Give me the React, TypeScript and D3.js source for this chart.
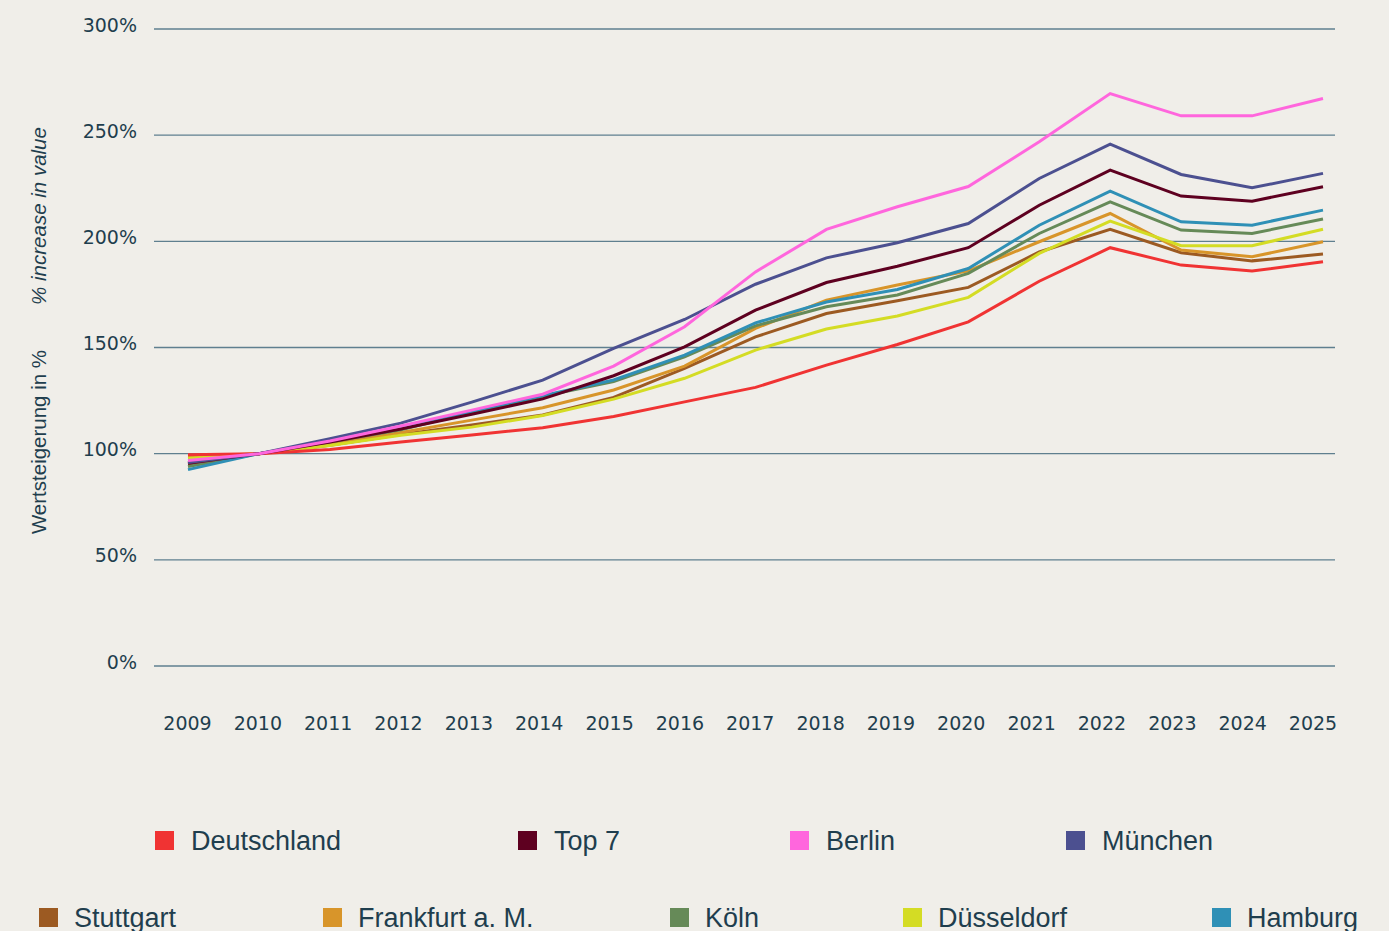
import React, { useEffect } from "react";
import { scaleLinear, scalePoint, line } from "d3";

const years = [2009, 2010, 2011, 2012, 2013, 2014, 2015, 2016, 2017, 2018, 2019, 2020, 2021, 2022, 2023, 2024, 2025];
const yTicks = [0, 50, 100, 150, 200, 250, 300];

const deutschland = [99.5, 100, 102, 105.5, 108.8, 112.2, 117.5, 124.4, 131.2, 141.7, 151.4, 162.1, 181.2, 197, 188.8, 186, 190.4];
const top7 = [95.5, 100, 105.5, 111.6, 118.6, 125.8, 136.7, 150.3, 167.6, 180.6, 188.3, 197, 217, 233.5, 221.3, 218.9, 225.7];
const berlin = [96.8, 100, 106, 113, 120.5, 128, 141.2, 159.8, 185.6, 205.6, 216.3, 225.8, 246.9, 269.6, 259.1, 259.1, 267.3];
const muenchen = [95.8, 100, 107, 114.4, 124.3, 134.6, 149.6, 163.2, 179.8, 192.2, 199.3, 208.4, 229.6, 245.8, 231.5, 225.2, 232];
const stuttgart = [95, 100, 104, 109, 113.5, 118.2, 126.5, 140.2, 155, 166, 172, 178.3, 195, 205.6, 194.6, 190.8, 194];
const frankfurt = [98.5, 100, 104.5, 110, 115.8, 121.6, 130, 141.2, 159, 172.3, 179.4, 186.1, 199.8, 213.1, 195.9, 192.7, 199.8];
const koeln = [94, 100, 105.5, 111.2, 119.5, 127, 134, 145.6, 160.2, 169.2, 174.7, 184.9, 203.7, 218.6, 205.3, 203.7, 210.5];
const duesseldorf = [97.8, 100, 103.8, 108.7, 112.5, 118, 125.7, 135.5, 148.8, 158.7, 164.8, 173.6, 194.3, 209.5, 197.9, 197.9, 205.7];
const hamburg = [92.5, 100, 106, 112, 120, 127.3, 134.7, 146.4, 161.6, 171.4, 177.3, 187.2, 207.6, 223.6, 209.2, 207.6, 214.7];

// drawing order (later = on top)
const series = [
  { name: "Stuttgart", color: "#9c5a22", values: stuttgart },
  { name: "Frankfurt a. M.", color: "#d8952a", values: frankfurt },
  { name: "Köln", color: "#668a58", values: koeln },
  { name: "Hamburg", color: "#2f90b6", values: hamburg },
  { name: "Düsseldorf", color: "#d4dc24", values: duesseldorf },
  { name: "Deutschland", color: "#f03333", values: deutschland },
  { name: "Top 7", color: "#5e0020", values: top7 },
  { name: "München", color: "#4c5090", values: muenchen },
  { name: "Berlin", color: "#ff66dd", values: berlin },
];

const legendRow1 = [
  { name: "Deutschland", color: "#f03333", x: 155 },
  { name: "Top 7", color: "#5e0020", x: 518 },
  { name: "Berlin", color: "#ff66dd", x: 790 },
  { name: "München", color: "#4c5090", x: 1066 },
];
const legendRow2 = [
  { name: "Stuttgart", color: "#9c5a22", x: 39 },
  { name: "Frankfurt a. M.", color: "#d8952a", x: 323 },
  { name: "Köln", color: "#668a58", x: 670 },
  { name: "Düsseldorf", color: "#d4dc24", x: 903 },
  { name: "Hamburg", color: "#2f90b6", x: 1212 },
];

const W = 1389;
const H = 931;
const textColor = "#1f3e4e";
const gridColor = "#5f7f8f";
const tickFont = "'DejaVu Sans', sans-serif";
const labelFont = "'Liberation Sans', Arial, sans-serif";

export default function App() {
  useEffect(() => {
    document.body.style.margin = "0";
  }, []);

  const x = scalePoint<number>().domain(years).range([188, 1323]);
  const xLabel = scalePoint<number>().domain(years).range([187.5, 1313]);
  const y = scaleLinear().domain([0, 300]).range([666, 29]);

  const path = line<number>()
    .x((_, i) => x(years[i]) ?? 0)
    .y((d) => y(d));

  return (
    <svg width={W} height={H} style={{ display: "block", background: "#f0eee9" }}>
      <rect width={W} height={H} fill="#f0eee9" />

      {/* grid + y ticks */}
      {yTicks.map((t) => (
        <g key={t}>
          <line x1={154} x2={1335} y1={y(t)} y2={y(t)} stroke={gridColor} strokeWidth={1.3} />
          <text
            x={137}
            y={y(t) + 2.5}
            textAnchor="end"
            fontFamily={tickFont}
            fontSize={19}
            fill={textColor}
          >
            {t}%
          </text>
        </g>
      ))}

      {/* x labels */}
      {years.map((yr) => (
        <text
          key={yr}
          x={xLabel(yr)}
          y={730}
          textAnchor="middle"
          fontFamily={tickFont}
          fontSize={19}
          fill={textColor}
        >
          {yr}
        </text>
      ))}

      {/* axis titles */}
      <text
        transform="translate(46,442) rotate(-90)"
        textAnchor="middle"
        fontFamily={labelFont}
        fontSize={20.5}
        fill={textColor}
      >
        Wertsteigerung in %
      </text>
      <text
        transform="translate(46,216) rotate(-90)"
        textAnchor="middle"
        fontFamily={labelFont}
        fontSize={20.5}
        fontStyle="italic"
        fill={textColor}
      >
        % increase in value
      </text>

      {/* lines */}
      {series.map((s) => (
        <path
          key={s.name}
          d={path(s.values) ?? ""}
          fill="none"
          stroke={s.color}
          strokeWidth={3}
          strokeLinejoin="miter"
        />
      ))}

      {/* legend (second row is cut by the bottom edge, as in the source) */}
      {legendRow1.map((l) => (
        <g key={l.name}>
          <rect x={l.x} y={831} width={19} height={19} fill={l.color} />
          <text x={l.x + 36} y={850} fontFamily={labelFont} fontSize={27} fill={textColor}>
            {l.name}
          </text>
        </g>
      ))}
      {legendRow2.map((l) => (
        <g key={l.name}>
          <rect x={l.x} y={908} width={19} height={19} fill={l.color} />
          <text x={l.x + 35} y={927} fontFamily={labelFont} fontSize={27} fill={textColor}>
            {l.name}
          </text>
        </g>
      ))}
    </svg>
  );
}
